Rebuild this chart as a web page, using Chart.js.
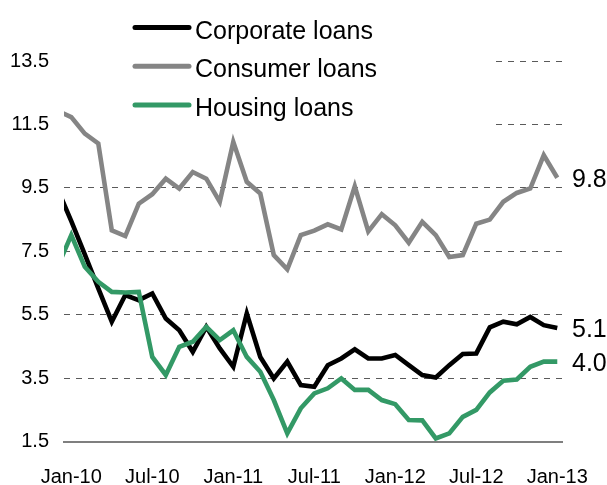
<!DOCTYPE html>
<html>
<head>
<meta charset="utf-8">
<script src="https://cdn.jsdelivr.net/npm/chart.js@4.4.0/dist/chart.umd.min.js"></script>
<style>
html,body{margin:0;padding:0;background:#ffffff;}
#wrap{width:607px;height:485px;position:relative;}
</style>
</head>
<body>
<div id="wrap"><canvas id="c" width="607" height="485"></canvas></div>
<script>
// ---- data ----
const months = [
  'Dec-09',
  'Jan-10','Feb-10','Mar-10','Apr-10','May-10','Jun-10','Jul-10','Aug-10','Sep-10','Oct-10','Nov-10','Dec-10',
  'Jan-11','Feb-11','Mar-11','Apr-11','May-11','Jun-11','Jul-11','Aug-11','Sep-11','Oct-11','Nov-11','Dec-11',
  'Jan-12','Feb-12','Mar-12','Apr-12','May-12','Jun-12','Jul-12','Aug-12','Sep-12','Oct-12','Nov-12','Dec-12',
  'Jan-13'
];
const tickLabels = ['Jan-10','Jul-10','Jan-11','Jul-11','Jan-12','Jul-12','Jan-13'];
const yTicks = [1.5, 3.5, 5.5, 7.5, 9.5, 11.5, 13.5];

const corporate = [
  9.45,
  8.45, 7.40, 6.33, 5.28, 6.12, 5.96, 6.17, 5.38, 5.01, 4.33, 5.12, 4.44,
  3.86, 5.54, 4.17, 3.49, 4.02, 3.28, 3.23, 3.91, 4.12, 4.41, 4.12, 4.12,
  4.23, 3.91, 3.60, 3.52, 3.91, 4.26, 4.28, 5.10, 5.28, 5.20, 5.43, 5.17,
  5.08
];
const consumer = [
  11.93,
  11.73, 11.21, 10.90, 8.16, 7.98, 9.00, 9.30, 9.79, 9.48, 10.00, 9.79, 9.06,
  10.95, 9.69, 9.32, 7.38, 6.93, 8.01, 8.15, 8.35, 8.19, 9.55, 8.13, 8.67,
  8.32, 7.77, 8.43, 8.01, 7.32, 7.38, 8.37, 8.50, 9.06, 9.34, 9.48, 10.53,
  9.82
];
const housing = [
  7.03,
  8.01, 7.01, 6.54, 6.22, 6.20, 6.22, 4.17, 3.60, 4.49, 4.65, 5.12, 4.70,
  5.01, 4.17, 3.70, 2.81, 1.76, 2.55, 3.02, 3.18, 3.49, 3.13, 3.13, 2.81,
  2.68, 2.18, 2.17, 1.60, 1.76, 2.28, 2.50, 3.05, 3.42, 3.46, 3.86, 4.02,
  4.02
];
const seriesNames = ['Corporate loans', 'Consumer loans', 'Housing loans'];
const seriesColors = ['#000000', '#858585', '#339966'];

const FONT = "'Liberation Sans', Arial, Helvetica, sans-serif";
const toPoints = arr => arr.map((v, i) => ({x: i, y: v}));

// white mask over the top-left grid area (legend zone)
const maskPlugin = {
  id: 'mask',
  beforeDatasetsDraw(chart) {
    const {ctx, chartArea} = chart;
    const y = chart.scales.y.getPixelForValue(10.5);
    ctx.save();
    ctx.fillStyle = '#ffffff';
    ctx.fillRect(chartArea.left - 2, 0, 492 - chartArea.left, y);
    ctx.restore();
  }
};

const legendPlugin = {
  id: 'customLegend',
  afterDraw(chart) {
    const {ctx} = chart;
    ctx.save();
    chart.data.datasets.forEach((ds, i) => {
      const yLine = 27.5 + i * 38.7;
      ctx.strokeStyle = ds.borderColor;
      ctx.lineWidth = 5;
      ctx.lineCap = 'round';
      ctx.beginPath();
      ctx.moveTo(135, yLine);
      ctx.lineTo(189, yLine);
      ctx.stroke();
      ctx.fillStyle = '#000';
      ctx.font = '25px ' + FONT;
      ctx.textBaseline = 'alphabetic';
      ctx.textAlign = 'left';
      ctx.fillText(ds.label, 195, yLine + 11);
    });
    ctx.restore();
  }
};

const endLabelPlugin = {
  id: 'endLabels',
  afterDatasetsDraw(chart) {
    const {ctx, chartArea} = chart;
    ctx.save();
    ctx.fillStyle = '#000';
    ctx.font = '25px ' + FONT;
    ctx.textAlign = 'left';
    ctx.textBaseline = 'alphabetic';
    chart.data.datasets.forEach((ds, i) => {
      const meta = chart.getDatasetMeta(i);
      const el = meta.data[meta.data.length - 1];
      const v = ds.data[ds.data.length - 1].y;
      ctx.fillText(v.toFixed(1), chartArea.right + 10, el.y + 9);
    });
    ctx.restore();
  }
};

const mk = (i, arr, order) => ({
  label: seriesNames[i],
  data: toPoints(arr),
  borderColor: seriesColors[i],
  backgroundColor: seriesColors[i],
  borderWidth: 4.6,
  pointRadius: 0,
  tension: 0,
  borderJoinStyle: 'miter',
  borderCapStyle: 'butt',
  clip: {left: 0, top: false, right: false, bottom: false},
  order: order
});

new Chart(document.getElementById('c'), {
  type: 'line',
  data: {
    datasets: [
      mk(0, corporate, 1),
      mk(1, consumer, 2),
      mk(2, housing, 0)
    ]
  },
  options: {
    responsive: false,
    animation: false,
    devicePixelRatio: 1,
    layout: {padding: {top: 61, right: 45, left: 0, bottom: 0}},
    plugins: {legend: {display: false}, tooltip: {enabled: false}},
    scales: {
      x: {
        type: 'linear',
        min: 0.46,
        max: 37.35,
        afterBuildTicks: s => { s.ticks = tickLabels.map(l => ({value: months.indexOf(l)})); },
        afterFit: s => { s.height = 43.4; s.paddingRight = 0; },
        ticks: {
          callback: v => months[v],
          autoSkip: false,
          maxRotation: 0,
          color: '#000',
          padding: 0,
          font: {family: FONT, size: 20}
        },
        grid: {display: false, drawTicks: true, tickLength: 24},
        border: {display: true, color: '#7f7f7f', width: 2}
      },
      y: {
        min: 1.5,
        max: 13.5,
        afterBuildTicks: s => { s.ticks = yTicks.map(v => ({value: v})); },
        afterFit: s => { s.width = 64; },
        ticks: {
          callback: v => v.toFixed(1),
          color: '#000',
          padding: 15,
          font: {family: FONT, size: 20}
        },
        grid: {color: '#5a5a5a', lineWidth: 1, drawTicks: false},
        border: {display: false, dash: [6, 6]}
      }
    }
  },
  plugins: [maskPlugin, endLabelPlugin, legendPlugin]
});
</script>
</body>
</html>
